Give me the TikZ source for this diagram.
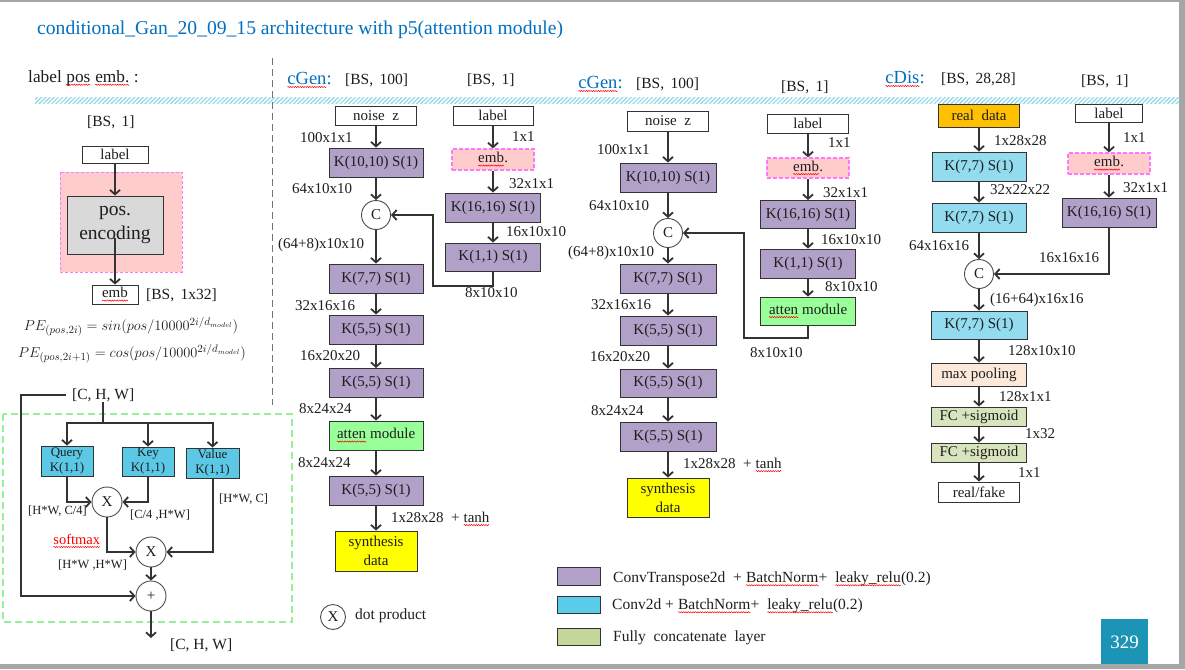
\documentclass[tikz,border=0pt]{standalone}
\usepackage{fontspec}
\setmainfont{Liberation Serif}
\usetikzlibrary{arrows.meta,patterns.meta,decorations.pathmorphing}
\definecolor{tblue}{HTML}{0070C0}
\definecolor{purp}{HTML}{B1A0C7}
\definecolor{cyl}{HTML}{93DCF0}
\definecolor{cyq}{HTML}{5BC8E6}
\definecolor{cyg}{HTML}{5BCDEB}
\definecolor{attg}{HTML}{99FF99}
\definecolor{ylw}{HTML}{FFFF00}
\definecolor{org}{HTML}{FFC000}
\definecolor{pnk}{HTML}{FFCCCC}
\definecolor{pnkb}{HTML}{FF77FF}
\definecolor{mpl}{HTML}{FDE9D9}
\definecolor{fcg}{HTML}{D7E4BD}
\definecolor{lgg}{HTML}{C4D79B}
\definecolor{grb}{HTML}{D9D9D9}
\definecolor{pgteal}{HTML}{1B94B5}
\definecolor{bord}{HTML}{A6A6A6}
\definecolor{hatchc}{HTML}{8ED8EA}
\definecolor{txt}{HTML}{1E1E1E}
\definecolor{lnc}{HTML}{333333}
\definecolor{dgreen}{HTML}{99EE99}
\newcommand\rw[1]{\tikz[baseline=(w.base)]{\node[inner sep=0pt,outer sep=0pt,minimum size=0pt,draw=none,fill=none](w){#1};\draw[red,line width=0.5pt,decorate,decoration={snake,amplitude=0.6pt,segment length=2.4pt}]([yshift=-2.6pt]w.base west)--([yshift=-2.6pt]w.base east);}}
\newcommand\fsz[2]{\fontsize{#1}{#2}\selectfont}
\begin{document}
\begin{tikzpicture}[x=1pt,y=-1pt,
 bx/.style={draw=black!80, line width=0.9pt, inner sep=0, align=center, text=txt, font=\fsz{15}{18}},
 sz/.style 2 args={minimum width=#1pt, minimum height=#2pt},
 pb/.style={bx, fill=purp},
 eb/.style={bx, fill=pnk, draw=pnkb, dash pattern=on 4pt off 2pt, line width=1.2pt},
 ar/.style={draw=lnc, line width=2pt, -{Straight Barb[length=4.5pt,width=10pt,line width=1.8pt]}},
 ln/.style={draw=lnc, line width=2pt},
 dm/.style={anchor=west, inner sep=0, text=txt, font=\fsz{15}{18}},
 hd/.style={anchor=west, inner sep=0, text=txt, font=\fsz{15.5}{18}},
 bl/.style={anchor=west, inner sep=0, text=tblue, font=\fsz{18.5}{20}},
 cc/.style={circle, draw=black!70, line width=0.9pt, fill=white, minimum size=29pt, inner sep=0, text=txt, font=\fsz{15}{18}},
 sm/.style={anchor=west, inner sep=0, text=txt, font=\fsz{12.5}{15}}
]
\useasboundingbox (0,0) rectangle (1185,669);
\fill[white] (0,0) rectangle (1185,669);

% title and headers
\node[anchor=west, inner sep=0, text=tblue, font=\fsz{19.6}{22}] (title) at (37,30) {conditional\_Gan\_20\_09\_15 architecture with p5(attention module)};
\node[anchor=west, inner sep=0, text=txt, font=\fsz{17.3}{20}] (lpe) at (28,78) {label \rw{pos} \rw{emb.}\ :};
\node[bl] (h1) at (287,80) {\rw{cGen}:};
\node[hd] (h1a) at (345,80) {[BS,\ \,100]};
\node[hd] (h1b) at (467,80) {[BS,\ \,1]};
\node[bl] (h2) at (578,84) {\rw{cGen}:};
\node[hd] (h2a) at (636,84) {[BS,\ \,100]};
\node[hd] (h2b) at (781,87) {[BS,\ \,1]};
\node[bl] (h3) at (885,79) {\rw{cDis}:};
\node[hd] (h3a) at (941,79) {[BS,\ \,28,28]};
\node[hd] (h3b) at (1081,81) {[BS,\ \,1]};

\fill[pattern={Lines[angle=45,distance=3pt,line width=1.2pt]}, pattern color=hatchc] (35,97) rectangle (1180,103);
\draw[black!55, line width=1pt, dash pattern=on 7pt off 4pt] (272,58) -- (272,405);

% ---------- left: label pos emb
\node[hd] (lbs) at (87,122) {[BS,\ \,1]};
\node[bx, sz={66}{17}] (llb) at (115,154.5) {label};
\draw[pnkb, fill=pnk, line width=0.8pt, dash pattern=on 3pt off 2pt] (60,172) rectangle (182,272);
\node[bx, fill=grb, sz={96}{58}, font=\fsz{19.5}{24}] (pe) at (115,225) {pos.\\encoding};
\node[bx, sz={46}{19}] (lem) at (115,294.5) {\rw{emb}};
\node[hd] (lbs2) at (146,295) {[BS,\ \,1x32]};
\draw[ar] (llb.south) -- (pe.north);
\draw[ar] ([yshift=-13pt]pe.center) -- (lem.north);
\node[inner sep=0, text=txt, font=\fsz{15}{18}] (pe1) at (131,327) {$PE_{(pos,2i)} = sin(pos/10000^{2i/d_{model}})$};
\node[inner sep=0, text=txt, font=\fsz{15}{18}] (pe2) at (132,354) {$PE_{(pos,2i+1)} = cos(pos/10000^{2i/d_{model}})$};

% ---------- attention module
\draw[dgreen, line width=1.5pt, dash pattern=on 7pt off 4pt] (3,414) rectangle (292,622);
\node[hd] (cin) at (72,395) {[C, H, W]};
\node[bx, fill=cyq, sz={52}{30}, font=\fsz{13}{15}] (q) at (67,461) {Query\\K(1,1)};
\node[bx, fill=cyq, sz={52}{29}, font=\fsz{13}{15}] (k) at (148,461.5) {Key\\K(1,1)};
\node[bx, fill=cyq, sz={53}{30}, font=\fsz{13}{15}] (v) at (212.5,463) {Value\\K(1,1)};
\node[cc, minimum size=30pt] (x1) at (107,502) {X};
\node[cc, minimum size=30pt] (x2) at (151,552) {X};
\node[cc, minimum size=30pt] (pl) at (151,596) {+};
\coordinate (al) at (21,596);
\coordinate (aout) at (151,638);
\path (cin.south) ++(0,21) coordinate (br);
\draw[ln] (cin.south) -- (br);
\draw[ar] (br) -| (q.north);
\draw[ar] (br) -| (k.north);
\draw[ar] (br) -| (v.north);
\draw[ar] (q.south) |- (x1.west);
\draw[ar] (k.south) |- (x1.east);
\draw[ar] (x1.south) |- (x2.west);
\draw[ar] (v.south) |- (x2.east);
\draw[ar] (x2.south) -- (pl.north);
\draw[ar] ([xshift=-6pt]cin.west) -| (al) -- (pl.west);
\draw[ar] (pl.south) -- (aout);
\node[sm] (t1) at (28,511) {[H*W, C/4]};
\node[sm] (t2) at (130,515) {[C/4 ,H*W]};
\node[sm] (t3) at (219,499) {[H*W, C]};
\node[anchor=west, inner sep=0, text=red, font=\fsz{14.5}{16}] (t4) at (53,541) {\rw{softmax}};
\node[sm] (t5) at (58,565) {[H*W ,H*W]};
\node[hd] (cout) at (170,645) {[C, H, W]};

% dot product legend
\node[cc, minimum size=25pt] (dp) at (333,617) {X};
\node[dm, font=\fsz{15.5}{18}] (dpt) at (355,616) {dot product};

% ---------- cGen 1
\node[bx, sz={81}{19}] (g1nz) at (376,115.5) {noise\ \ z};
\node[pb, sz={94}{29}] (g1k1) at (376,162.5) {K(10,10) S(1)};
\node[cc] (g1c) at (376,215) {C};
\node[pb, sz={94}{29}] (g1k2) at (376,278.5) {K(7,7) S(1)};
\node[pb, sz={94}{29}] (g1k3) at (376,329.5) {K(5,5) S(1)};
\node[pb, sz={94}{29}] (g1k4) at (376,383) {K(5,5) S(1)};
\node[bx, fill=attg, sz={94}{29}] (g1at) at (376,435.5) {\rw{atten} module};
\node[pb, sz={94}{29}] (g1k5) at (376,490.5) {K(5,5) S(1)};
\node[bx, fill=ylw, sz={82}{40}, font=\fsz{15}{19}] (g1sy) at (376,551) {synthesis\\data};
\node[bx, sz={80}{19}] (g1lb) at (493,115.5) {label};
\node[eb, sz={82}{21}] (g1em) at (493,159.5) {\rw{emb}.};
\node[pb, sz={95}{29}] (g1k6) at (493,207.5) {K(16,16) S(1)};
\node[pb, sz={95}{28}] (g1k7) at (493,257) {K(1,1) S(1)};
\draw[ar] (g1nz.south) -- (g1k1.north);
\draw[ar] (g1k1.south) -- (g1c.north);
\draw[ar] (g1c.south) -- (g1k2.north);
\draw[ar] (g1k2.south) -- (g1k3.north);
\draw[ar] (g1k3.south) -- (g1k4.north);
\draw[ar] (g1k4.south) -- (g1at.north);
\draw[ar] (g1at.south) -- (g1k5.north);
\draw[ar] (g1k5.south) -- (g1sy.north);
\draw[ar] (g1lb.south) -- (g1em.north);
\draw[ar] (g1em.south) -- (g1k6.north);
\draw[ar] (g1k6.south) -- (g1k7.north);
\draw[ar] (g1k7.south) |- (433,286) |- (g1c.east);
\node[dm] at (300,138) {100x1x1};
\node[dm] at (292,189) {64x10x10};
\node[dm] at (278,245) {(64+8)x10x10};
\node[dm] at (295,306) {32x16x16};
\node[dm] at (300,356) {16x20x20};
\node[dm] at (299,409) {8x24x24};
\node[dm] at (298,463) {8x24x24};
\node[dm] at (391,519) {1x28x28\ \ +\ \rw{tanh}};
\node[dm] at (512,137) {1x1};
\node[dm] at (509,184) {32x1x1};
\node[dm] at (506,232) {16x10x10};
\node[dm] at (465,293) {8x10x10};

% ---------- cGen 2
\node[bx, sz={81}{20}] (g2nz) at (668,121) {noise\ \ z};
\node[pb, sz={96}{29}] (g2k1) at (668,177.5) {K(10,10) S(1)};
\node[cc] (g2c) at (668,233) {C};
\node[pb, sz={96}{29}] (g2k2) at (668,278.5) {K(7,7) S(1)};
\node[pb, sz={96}{29}] (g2k3) at (668,330.5) {K(5,5) S(1)};
\node[pb, sz={96}{28}] (g2k4) at (668,383) {K(5,5) S(1)};
\node[pb, sz={96}{29}] (g2k5) at (668,436.5) {K(5,5) S(1)};
\node[bx, fill=ylw, sz={82}{39}, font=\fsz{15}{19}] (g2sy) at (668,497.5) {synthesis\\data};
\node[bx, sz={81}{19}] (g2lb) at (808,123.5) {label};
\node[eb, sz={82}{20}] (g2em) at (808,168) {\rw{emb}.};
\node[pb, sz={95}{28}] (g2k6) at (808,214.5) {K(16,16) S(1)};
\node[pb, sz={95}{29}] (g2k7) at (808,263.5) {K(1,1) S(1)};
\node[bx, fill=attg, sz={95}{28}] (g2at) at (808,311) {\rw{atten} module};
\draw[ar] (g2nz.south) -- (g2k1.north);
\draw[ar] (g2k1.south) -- (g2c.north);
\draw[ar] (g2c.south) -- (g2k2.north);
\draw[ar] (g2k2.south) -- (g2k3.north);
\draw[ar] (g2k3.south) -- (g2k4.north);
\draw[ar] (g2k4.south) -- (g2k5.north);
\draw[ar] (g2k5.south) -- (g2sy.north);
\draw[ar] (g2lb.south) -- (g2em.north);
\draw[ar] (g2em.south) -- (g2k6.north);
\draw[ar] (g2k6.south) -- (g2k7.north);
\draw[ar] (g2k7.south) -- (g2at.north);
\draw[ar] (g2at.south) |- (744,338) |- (g2c.east);
\node[dm] at (597,150) {100x1x1};
\node[dm] at (589,206) {64x10x10};
\node[dm] at (568,253) {(64+8)x10x10};
\node[dm] at (591,305) {32x16x16};
\node[dm] at (590,357) {16x20x20};
\node[dm] at (591,411) {8x24x24};
\node[dm] at (683,465) {1x28x28\ \ +\ \rw{tanh}};
\node[dm] at (828,143) {1x1};
\node[dm] at (823,193) {32x1x1};
\node[dm] at (821,240) {16x10x10};
\node[dm] at (825,287) {8x10x10};
\node[dm] at (750,353) {8x10x10};

% ---------- cDis
\node[bx, fill=org, sz={81}{23}] (dre) at (979,115.5) {real\ \ data};
\node[bx, fill=cyl, sz={94}{29}] (dk1) at (979,166.5) {K(7,7) S(1)};
\node[bx, fill=cyl, sz={94}{29}] (dk2) at (979,217.5) {K(7,7) S(1)};
\node[cc] (dc) at (979,274) {C};
\node[bx, fill=cyl, sz={96}{28}] (dk3) at (979,325) {K(7,7) S(1)};
\node[bx, fill=mpl, sz={95}{23}] (dmp) at (979,374.5) {max pooling};
\node[bx, fill=fcg, sz={95}{19}] (dfc1) at (979,416.5) {FC +sigmoid};
\node[bx, fill=fcg, sz={95}{19}] (dfc2) at (979,452.5) {FC +sigmoid};
\node[bx, sz={81}{20}] (drf) at (979,492) {real/fake};
\node[bx, sz={67}{18}] (dlb) at (1109,113) {label};
\node[eb, sz={82}{21}] (dem) at (1109,163.5) {\rw{emb}.};
\node[pb, sz={94}{29}] (dk6) at (1109,212.5) {K(16,16) S(1)};
\draw[ar] (dre.south) -- (dk1.north);
\draw[ar] (dk1.south) -- (dk2.north);
\draw[ar] (dk2.south) -- (dc.north);
\draw[ar] (dc.south) -- (dk3.north);
\draw[ar] (dk3.south) -- (dmp.north);
\draw[ar] (dmp.south) -- (dfc1.north);
\draw[ar] (dfc1.south) -- (dfc2.north);
\draw[ar] (dfc2.south) -- (drf.north);
\draw[ar] (dlb.south) -- (dem.north);
\draw[ar] (dem.south) -- (dk6.north);
\draw[ar] (dk6.south) |- (dc.east);
\node[dm] at (994,141) {1x28x28};
\node[dm] at (990,190) {32x22x22};
\node[dm] at (909,246) {64x16x16};
\node[dm] at (990,300) {(16+64)x16x16};
\node[dm] at (1008,351) {128x10x10};
\node[dm] at (999,397) {128x1x1};
\node[dm] at (1025,434) {1x32};
\node[dm] at (1018,473) {1x1};
\node[dm] at (1123,138) {1x1};
\node[dm] at (1123,188) {32x1x1};
\node[dm] at (1039,258) {16x16x16};

% ---------- legend
\node[bx, fill=purp, sz={43}{18}] (lg1) at (578.5,576) {};
\node[bx, fill=cyg, sz={43}{17}] (lg2) at (578.5,604.5) {};
\node[bx, fill=lgg, sz={43}{17}] (lg3) at (578.5,636.5) {};
\node[dm, font=\fsz{15.5}{18}] (lt1) at (613,579) {ConvTranspose2d\ \ + \rw{BatchNorm}+\ \ \rw{leaky\_relu}(0.2)};
\node[dm, font=\fsz{15.5}{18}] (lt2) at (612,606) {Conv2d + \rw{BatchNorm}+\ \ \rw{leaky\_relu}(0.2)};
\node[dm, font=\fsz{15.5}{18}] (lt3) at (613,638) {Fully\ \ concatenate\ \ layer};

\node[fill=pgteal, sz={47}{46}, inner sep=0, text=white, font=\fsz{19}{20}] (pg) at (1124.5,642) {329};

% frame
\fill[bord] (0,0) rectangle (1185,2);
\fill[bord] (1179,0) rectangle (1185,669);
\fill[bord] (0,664) rectangle (1185,669);
\end{tikzpicture}
\end{document}
